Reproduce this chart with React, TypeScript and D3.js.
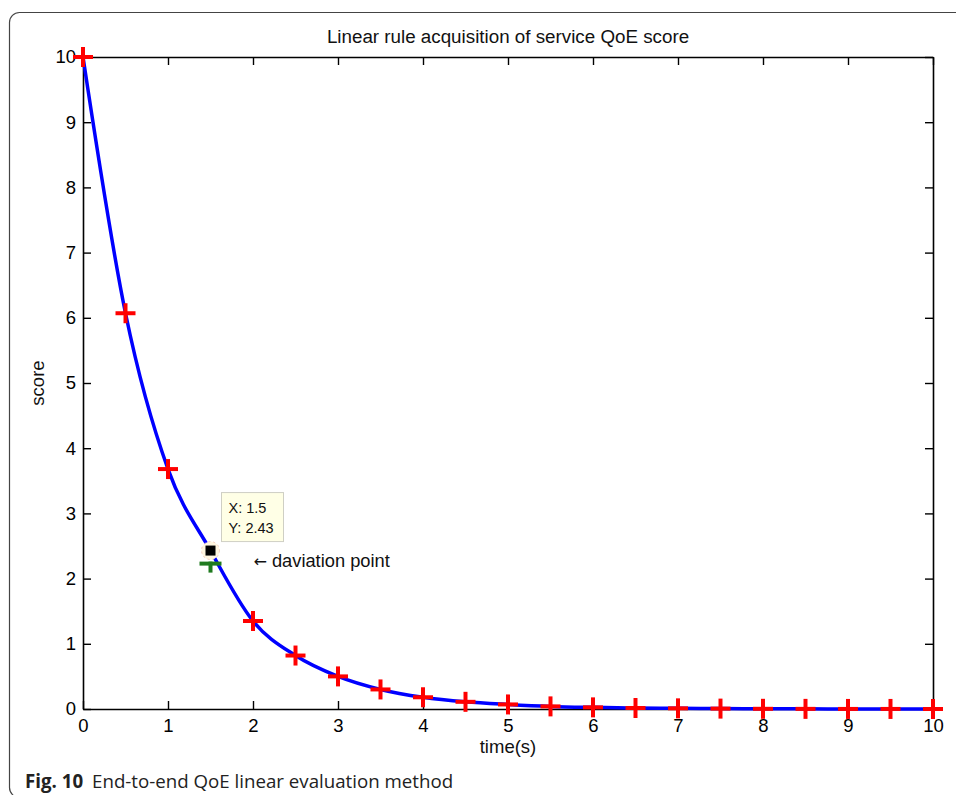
import * as d3 from "d3";
import { useEffect, useRef } from "react";

// sampled scores (red markers), every 0.5 s
const times = [0, 0.5, 1, 1.5, 2, 2.5, 3, 3.5, 4, 4.5, 5, 5.5, 6, 6.5, 7, 7.5, 8, 8.5, 9, 9.5, 10];
const scores = [10, 6.07, 3.68, 2.23, 1.35, 0.82, 0.5, 0.3, 0.18, 0.11, 0.07, 0.04, 0.025, 0.015, 0.01, 0.006, 0.003, 0.002, 0.001, 0.001, 0];
// measured curve (blue line) - deviates at 1.5 s
const lineScores = [10, 6.07, 3.68, 2.43, 1.35, 0.82, 0.5, 0.3, 0.18, 0.11, 0.07, 0.04, 0.025, 0.015, 0.01, 0.006, 0.003, 0.002, 0.001, 0.001, 0];
const xTicks = [0, 1, 2, 3, 4, 5, 6, 7, 8, 9, 10];
const yTicks = [0, 1, 2, 3, 4, 5, 6, 7, 8, 9, 10];
const devX = 1.5;
const devY = 2.43;
const devTrue = 2.23;

export default function App() {
  const svgRef = useRef<SVGSVGElement | null>(null);
  const width = 956;
  const height = 795;
  const left = 83;
  const right = 933;
  const top = 57;
  const bottom = 709;

  useEffect(() => {
    if (!svgRef.current) return;
    const svg = d3.select(svgRef.current);
    svg.selectAll("*").remove();

    const font = "'Liberation Sans', Arial, sans-serif";
    const x = d3.scaleLinear().domain([0, 10]).range([left, right]);
    const y = d3.scaleLinear().domain([0, 10]).range([bottom, top]);

    // outer figure frame
    svg
      .append("rect")
      .attr("x", 9.5)
      .attr("y", 12.5)
      .attr("width", 1000)
      .attr("height", 785)
      .attr("rx", 10)
      .attr("fill", "white")
      .attr("stroke", "#444")
      .attr("stroke-width", 1.2);

    // title
    svg
      .append("text")
      .attr("x", (left + right) / 2)
      .attr("y", 43)
      .attr("text-anchor", "middle")
      .attr("font-family", font)
      .attr("font-size", 18.8)
      .attr("fill", "#111")
      .text("Linear rule acquisition of service QoE score");

    // axes (box with inward ticks)
    const tk = 8;
    const bottomAxis = d3.axisBottom(x).tickValues(xTicks).tickSizeInner(-tk).tickSizeOuter(0).tickPadding(10);
    const topAxis = d3.axisTop(x).tickValues(xTicks).tickSizeInner(-tk).tickSizeOuter(0).tickFormat(() => "");
    const leftAxis = d3.axisLeft(y).tickValues(yTicks).tickSizeInner(-tk).tickSizeOuter(0).tickPadding(7);
    const rightAxis = d3.axisRight(y).tickValues(yTicks).tickSizeInner(-tk).tickSizeOuter(0).tickFormat(() => "");

    const axes = [
      svg.append("g").attr("transform", `translate(0,${bottom})`).call(bottomAxis),
      svg.append("g").attr("transform", `translate(0,${top})`).call(topAxis),
      svg.append("g").attr("transform", `translate(${left},0)`).call(leftAxis),
      svg.append("g").attr("transform", `translate(${right},0)`).call(rightAxis),
    ];
    axes.forEach((g) => {
      g.attr("font-size", 18.5).attr("font-family", font);
      g.select(".domain").attr("stroke", "#000").attr("stroke-width", 1.6);
      g.selectAll(".tick line").attr("stroke", "#000").attr("stroke-width", 1.4);
      g.selectAll(".tick text").attr("fill", "#000");
    });

    // axis labels
    svg
      .append("text")
      .attr("x", (left + right) / 2)
      .attr("y", 753)
      .attr("text-anchor", "middle")
      .attr("font-family", font)
      .attr("font-size", 18.5)
      .attr("fill", "#111")
      .text("time(s)");
    svg
      .append("text")
      .attr("transform", `translate(44,${(top + bottom) / 2}) rotate(-90)`)
      .attr("text-anchor", "middle")
      .attr("font-family", font)
      .attr("font-size", 18.5)
      .attr("fill", "#111")
      .text("score");

    // blue curve
    const pts = times.map((t, i) => [t, lineScores[i]] as [number, number]);
    const line = d3
      .line<[number, number]>()
      .x((d) => x(d[0]))
      .y((d) => y(d[1]))
      .curve(d3.curveMonotoneX);
    svg
      .append("path")
      .datum(pts)
      .attr("d", line)
      .attr("fill", "none")
      .attr("stroke", "#0000ff")
      .attr("stroke-width", 3.5);

    // red "+" markers
    const arm = 10;
    const marks = svg
      .append("g")
      .selectAll("g")
      .data(times.map((t, i) => ({ t, v: scores[i] })).filter((d) => d.t !== devX))
      .enter()
      .append("g")
      .attr("transform", (d) => `translate(${x(d.t)},${y(d.v)})`);
    marks.append("line").attr("x1", -arm).attr("x2", arm).attr("stroke", "#ff0000").attr("stroke-width", 4);
    marks.append("line").attr("y1", -arm).attr("y2", arm).attr("stroke", "#ff0000").attr("stroke-width", 4);

    // expected point at 1.5 s (green cross)
    const g = svg.append("g").attr("transform", `translate(${x(devX)},${y(devTrue)})`);
    g.append("line").attr("x1", -11).attr("x2", 11).attr("stroke", "#1f7a1f").attr("stroke-width", 4);
    g.append("line").attr("y1", -2).attr("y2", 9).attr("stroke", "#1f7a1f").attr("stroke-width", 4);

    // data tip marker
    svg
      .append("circle")
      .attr("cx", x(devX))
      .attr("cy", y(devY))
      .attr("r", 9)
      .attr("fill", "#fff6e0")
      .attr("stroke", "#f3c8b8")
      .attr("stroke-width", 1)
      .attr("stroke-dasharray", "2,3");
    svg
      .append("rect")
      .attr("x", x(devX) - 5)
      .attr("y", y(devY) - 5)
      .attr("width", 10)
      .attr("height", 10)
      .attr("fill", "#000");

    // data tip box
    const bx = x(devX) + 11;
    const by = y(devY) - 58;
    svg
      .append("rect")
      .attr("x", bx)
      .attr("y", by)
      .attr("width", 62)
      .attr("height", 49)
      .attr("fill", "#ffffe6")
      .attr("stroke", "#cfcfc4")
      .attr("stroke-width", 1);
    svg
      .append("text")
      .attr("x", bx + 7)
      .attr("y", by + 20)
      .attr("font-family", font)
      .attr("font-size", 14.5)
      .attr("fill", "#111")
      .text(`X: ${devX}`);
    svg
      .append("text")
      .attr("x", bx + 7)
      .attr("y", by + 40)
      .attr("font-family", font)
      .attr("font-size", 14.5)
      .attr("fill", "#111")
      .text(`Y: ${devY}`);

    // annotation
    const ann = svg
      .append("text")
      .attr("x", x(devX) + 43)
      .attr("y", y(devY) + 16)
      .attr("font-family", font)
      .attr("font-size", 18.3)
      .attr("fill", "#111");
    ann.append("tspan").attr("font-family", "'DejaVu Sans', sans-serif").attr("font-size", 16).text("\u2190");
    ann.append("tspan").attr("dx", 5).text("daviation point");

    // caption
    const cap = svg
      .append("text")
      .attr("x", 25)
      .attr("y", 788)
      .attr("font-family", "'Open Sans', 'Noto Sans', sans-serif")
      .attr("font-size", 18.7)
      .attr("fill", "#222");
    cap.append("tspan").attr("font-weight", "bold").text("Fig. 10");
    cap.append("tspan").attr("dx", 9).text("End-to-end QoE linear evaluation method");
  }, [svgRef]);

  return (
    <svg
      ref={svgRef}
      width={width}
      height={height}
      style={{ position: "absolute", left: 0, top: 0 }}
    />
  );
}
